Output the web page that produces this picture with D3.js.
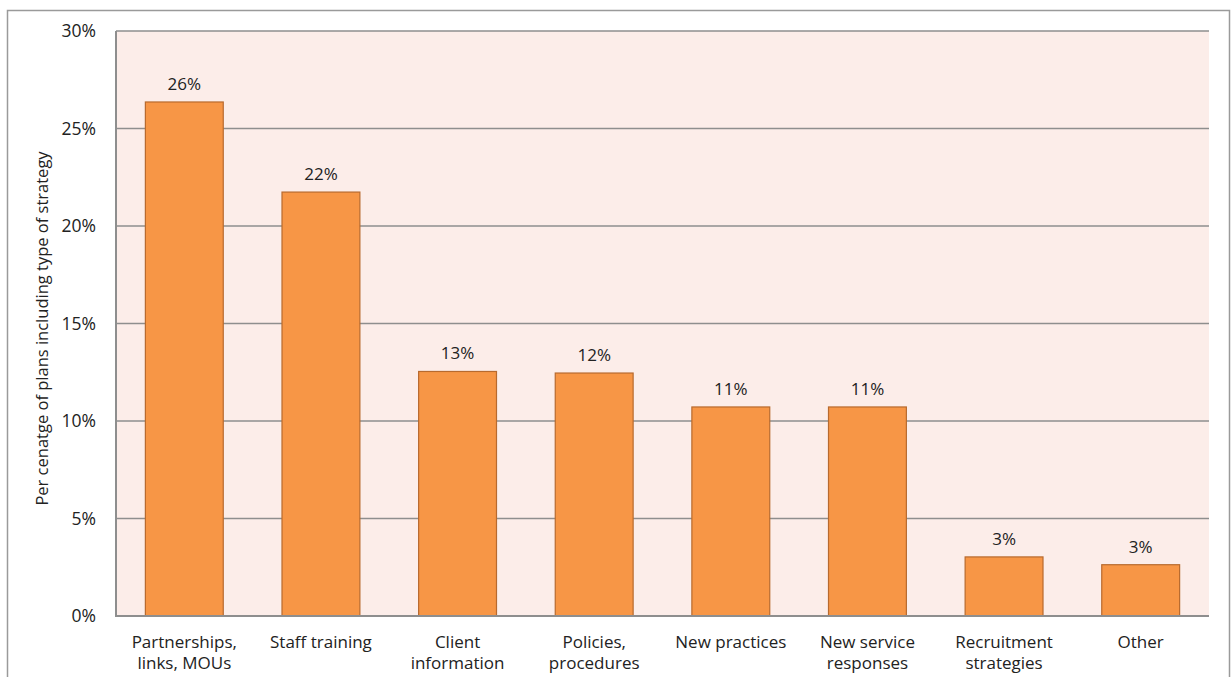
<!DOCTYPE html>
<html>
<head>
<meta charset="utf-8">
<script src="https://cdn.jsdelivr.net/npm/d3@7"></script>
<style>
  html, body { margin: 0; padding: 0; background: #ffffff; }
  svg { display: block; font-family: "Open Sans", "DejaVu Sans", sans-serif; }
</style>
</head>
<body>
<svg id="chart" width="1232" height="677"></svg>
<script>
// Strategy types included in plans
const categories = [
  ["Partnerships,", "links, MOUs"],
  ["Staff training"],
  ["Client", "information"],
  ["Policies,", "procedures"],
  ["New practices"],
  ["New service", "responses"],
  ["Recruitment", "strategies"],
  ["Other"]
];
// Percentage of plans including each strategy type
const values = [26.36, 21.74, 12.54, 12.46, 10.72, 10.72, 3.03, 2.63];
const yTicks = [0, 5, 10, 15, 20, 25, 30];
const yTitle = "Per cenatge of plans including type of strategy";

const svg = d3.select("#chart");
const plot = { left: 116, right: 1209, top: 31, bottom: 616 };
const textColor = "#222";

// outer frame
svg.append("rect")
  .attr("x", 7.5).attr("y", 10.5)
  .attr("width", 1222).attr("height", 680)
  .attr("fill", "#ffffff")
  .attr("stroke", "#9a9a9a").attr("stroke-width", 1.5);

const x = d3.scaleBand()
  .domain(d3.range(categories.length))
  .range([plot.left, plot.right])
  .paddingInner(0.43).paddingOuter(0.215);

const y = d3.scaleLinear().domain([0, 30]).range([plot.bottom, plot.top]);

// plot background
svg.append("rect")
  .attr("x", plot.left).attr("y", plot.top)
  .attr("width", plot.right - plot.left).attr("height", plot.bottom - plot.top)
  .attr("fill", "#fcede9");

// gridlines
svg.append("g").selectAll("line")
  .data(yTicks.filter(d => d > 0))
  .join("line")
  .attr("x1", plot.left).attr("x2", plot.right)
  .attr("y1", d => y(d)).attr("y2", d => y(d))
  .attr("stroke", "#8e8e8e").attr("stroke-width", 1.6);

// y axis labels
const yAxis = svg.append("g")
  .attr("transform", `translate(${plot.left},0)`)
  .call(d3.axisLeft(y).tickValues(yTicks).tickFormat(d => d + "%").tickSize(0).tickPadding(20));
yAxis.select(".domain").remove();
yAxis.selectAll("text")
  .attr("font-family", "'Open Sans', 'DejaVu Sans', sans-serif")
  .attr("font-size", 17.5).attr("fill", textColor);

// bars
svg.append("g").selectAll("rect")
  .data(values)
  .join("rect")
  .attr("x", (d, i) => x(i))
  .attr("y", d => y(d))
  .attr("width", x.bandwidth())
  .attr("height", d => y(0) - y(d))
  .attr("fill", "#f79646")
  .attr("stroke", "#b86a2e").attr("stroke-width", 1.2);

// value labels
svg.append("g").selectAll("text")
  .data(values)
  .join("text")
  .attr("x", (d, i) => x(i) + x.bandwidth() / 2)
  .attr("y", d => y(d) - 12)
  .attr("text-anchor", "middle")
  .attr("font-size", 17).attr("fill", textColor)
  .text(d => d3.format(".0%")(d / 100));

// axis lines
svg.append("line")
  .attr("x1", plot.left).attr("x2", plot.left)
  .attr("y1", plot.top).attr("y2", plot.bottom + 1)
  .attr("stroke", "#8e8e8e").attr("stroke-width", 2);
svg.append("line")
  .attr("x1", plot.left).attr("x2", plot.right)
  .attr("y1", plot.bottom).attr("y2", plot.bottom)
  .attr("stroke", "#8e8e8e").attr("stroke-width", 2);

// category labels
const cat = svg.append("g").selectAll("text")
  .data(categories)
  .join("text")
  .attr("x", (d, i) => x(i) + x.bandwidth() / 2)
  .attr("y", 648)
  .attr("text-anchor", "middle")
  .attr("font-size", 17).attr("fill", textColor);
cat.selectAll("tspan")
  .data(d => d)
  .join("tspan")
  .attr("x", function () { return d3.select(this.parentNode).attr("x"); })
  .attr("dy", (d, i) => i === 0 ? 0 : 21)
  .text(d => d);

// y axis title
svg.append("text")
  .attr("transform", `translate(48,${(plot.top + plot.bottom) / 2 + 5}) rotate(-90)`)
  .attr("text-anchor", "middle")
  .attr("font-size", 16.5).attr("fill", textColor)
  .text(yTitle);
</script>
</body>
</html>
